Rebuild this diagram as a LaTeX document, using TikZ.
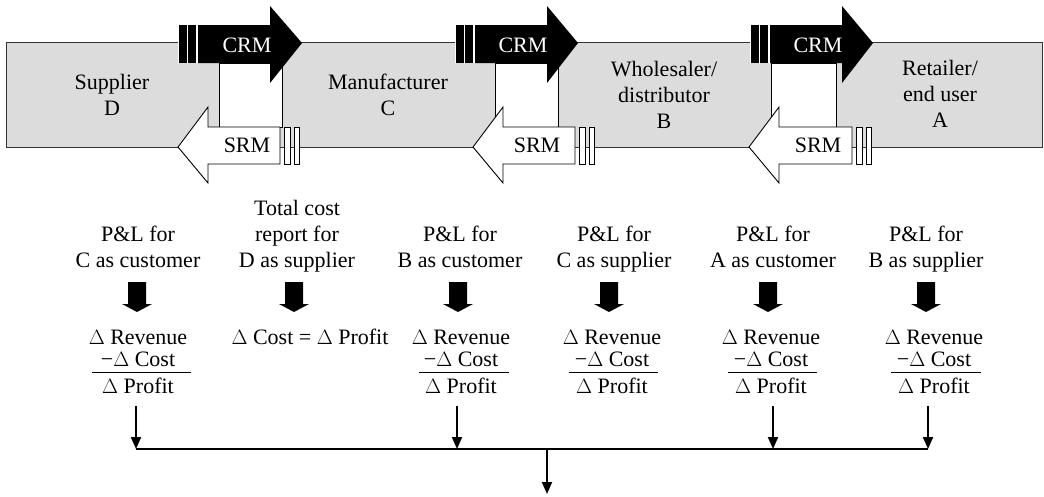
\documentclass[tikz,border=0pt]{standalone}
\usepackage{fontspec}
\setmainfont{Liberation Serif}
\usetikzlibrary{arrows.meta}

% a centred block of lines whose baseline is the baseline of its first line
\newcommand\linesblock[1]{\begin{tabular}[t]{@{}c@{}}#1\end{tabular}}

% one CRM/SRM pair: #1 CRM body start, #2 CRM body end, #3 CRM tip,
% #4/#5 left/right side of the linking frame, #6 SRM tip, #7 SRM body end
\newcommand\relpair[7]{%
  \draw[frameline, fill=white] (#4,63) rectangle (#5,127);
  \fill[black] (#1,25) -- (#2,25) -- (#2,6) -- (#3,43) -- (#2,83) -- (#2,63) -- (#1,63) -- cycle;
  \fill[white] (#1-20,25) rectangle (#1,63);
  \fill[black] (#1-19,25) rectangle (#1-11.5,63);
  \fill[black] (#1-10,25) rectangle (#1-2.5,63);
  \draw[frameline, fill=white] (#6,147) -- (#6+30,107) -- (#6+30,127) -- (#7,127)
        -- (#7,164) -- (#6+30,164) -- (#6+30,183) -- cycle;
  \draw[frameline, fill=white] (#7+4,127) rectangle (#7+10.5,164);
  \draw[frameline, fill=white] (#7+14.5,127) rectangle (#7+19,164);
}

\definecolor{bandgray}{HTML}{DCDCDC}
\definecolor{bandline}{HTML}{333333}

\tikzset{
  txt/.style={font=\fontsize{22}{26}\selectfont, inner sep=0pt, anchor=base},
  frm/.style={font=\fontsize{22}{22}\selectfont, inner sep=0pt, anchor=base},
  frameline/.style={draw=black, line width=0.9pt},
  conn/.style={line width=2pt, -{Triangle[width=10pt,length=12pt]}},
  busline/.style={line width=1.5pt},
  fracrule/.style={line width=1pt},
  blockdown/.pic={\fill[black] (-9,0) -- (9,0) -- (9,22) -- (15,22) -- (0,30)
                   -- (-15,22) -- (-9,22) -- cycle;}
}

\begin{document}
\begin{tikzpicture}[x=1pt, y=-1pt]
\useasboundingbox (0,0) rectangle (1044,496);

% supply chain band
\draw[fill=bandgray, draw=bandline, line width=1pt] (6,42) rectangle (1042,147);

% chain members
\node[txt] (sup) at (112,89) {\linesblock{Supplier\\D}};
\node[txt] (man) at (388,89) {\linesblock{Manufacturer\\C}};
\node[txt] (whl) at (664,76) {\linesblock{Wholesaler/\\distributor\\B}};
\node[txt] (ret) at (940,75) {\linesblock{Retailer/\\end user\\A}};

% CRM / SRM links between neighbours
\relpair{198}{270}{302}{219}{282}{178}{280}
\relpair{475}{547}{578}{495}{558}{473}{575}
\relpair{770}{842}{873}{771}{836}{749}{852}

\node[txt, text=white] (crm1) at (247,52) {CRM};
\node[txt, text=white] (crm2) at (523,52) {CRM};
\node[txt, text=white] (crm3) at (818,52) {CRM};
\node[txt] (srm1) at (247,152) {SRM};
\node[txt] (srm2) at (537,152) {SRM};
\node[txt] (srm3) at (818,152) {SRM};

% reports
\node[txt] (lab1) at (138,241) {\linesblock{P\&L for\\C as customer}};
\node[txt] (lab2) at (297,215) {\linesblock{Total cost\\report for\\D as supplier}};
\node[txt] (lab3) at (460,241) {\linesblock{P\&L for\\B as customer}};
\node[txt] (lab4) at (614,241) {\linesblock{P\&L for\\C as supplier}};
\node[txt] (lab5) at (773,241) {\linesblock{P\&L for\\A as customer}};
\node[txt] (lab6) at (926,241) {\linesblock{P\&L for\\B as supplier}};

% block arrows from each report to its result
\pic at (137,282) {blockdown};
\pic at (294,282) {blockdown};
\pic at (458,282) {blockdown};
\pic at (609,282) {blockdown};
\pic at (768,282) {blockdown};
\pic at (926,282) {blockdown};

% results
\node[frm] (f1) at (138,344) {\linesblock{$\Delta$ Revenue\\−$\Delta$ Cost\\[5pt]$\Delta$ Profit}};
\node[frm] (f2) at (310,344) {$\Delta$ Cost = $\Delta$ Profit};
\node[frm] (f3) at (461,344) {\linesblock{$\Delta$ Revenue\\−$\Delta$ Cost\\[5pt]$\Delta$ Profit}};
\node[frm] (f4) at (612,344) {\linesblock{$\Delta$ Revenue\\−$\Delta$ Cost\\[5pt]$\Delta$ Profit}};
\node[frm] (f5) at (771,344) {\linesblock{$\Delta$ Revenue\\−$\Delta$ Cost\\[5pt]$\Delta$ Profit}};
\node[frm] (f6) at (934,344) {\linesblock{$\Delta$ Revenue\\−$\Delta$ Cost\\[5pt]$\Delta$ Profit}};

\draw[fracrule] (92,372) -- (191,372);
\draw[fracrule] (419,372) -- (509,372);
\draw[fracrule] (569,372) -- (658,372);
\draw[fracrule] (728,372) -- (817,372);
\draw[fracrule] (891,372) -- (981,372);

% consolidation
\coordinate (b1) at (136,406);
\coordinate (b3) at (457,406);
\coordinate (b5) at (773,406);
\coordinate (b6) at (928,406);
\coordinate (join) at (547,449);
\coordinate (out) at (547,494);

\draw[busline] (b1 |- join) -- (b6 |- join);
\draw[conn] (b1) -- (b1 |- join);
\draw[conn] (b3) -- (b3 |- join);
\draw[conn] (b5) -- (b5 |- join);
\draw[conn] (b6) -- (b6 |- join);
\draw[conn] (join) -- (out);
\end{tikzpicture}
\end{document}
